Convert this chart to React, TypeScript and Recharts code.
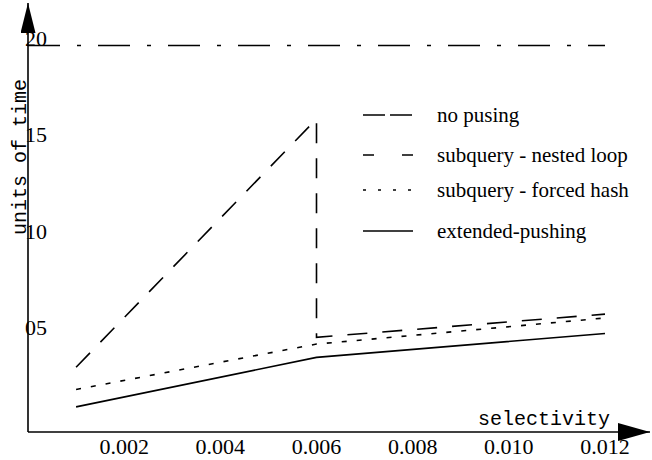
import { LineChart, Line, XAxis, YAxis, Legend, Label } from "recharts"

// ── Data ──────────────────────────────────────────────────────────────────

const X_TICKS = [0.002, 0.004, 0.006, 0.008, 0.01, 0.012]
const Y_TICKS = [5, 10, 15, 20]
const X_MAX = 0.012936
const Y_MAX = 22.2

const noPushingX = [0, 0.012]
const noPushingY = [20, 20]

const nestedLoopX = [0.001, 0.006, 0.006, 0.012]
const nestedLoopY = [3.35, 16.2, 4.9, 6.1]

const forcedHashX = [0.001, 0.006, 0.012]
const forcedHashY = [2.2, 4.55, 5.9]

const extendedX = [0.001, 0.006, 0.012]
const extendedY = [1.3, 3.86, 5.1]

const toPoints = (xs: number[], ys: number[]) =>
  xs.map((x, i) => ({ x, y: ys[i] }))

// ── Series styling ────────────────────────────────────────────────────────

const SERIES = [
  { name: "no pusing", data: toPoints(noPushingX, noPushingY), dash: "32 17 4 17", legendDash: "22 5" },
  { name: "subquery - nested loop", data: toPoints(nestedLoopX, nestedLoopY), dash: "20 15", legendDash: "11 28" },
  { name: "subquery - forced hash", data: toPoints(forcedHashX, forcedHashY), dash: "5 10", legendDash: "3 12" },
  { name: "extended-pushing", data: toPoints(extendedX, extendedY), dash: undefined, legendDash: undefined },
]

const SERIF = "Liberation Serif"
const MONO = "Liberation Mono"
const LEGEND_ROW_TOP = [0, 40, 75, 116]

// ── Ticks, titles, legend ─────────────────────────────────────────────────

function XTick({ x, y, payload }: any) {
  return (
    <text x={x} y={y + 22} textAnchor="middle" style={{ fontFamily: SERIF, fontSize: 22 }} fill="#000">
      {payload.value.toFixed(3)}
    </text>
  )
}

function YTick({ x, y, payload }: any) {
  return (
    <text x={x - 3} y={y} textAnchor="start" style={{ fontFamily: SERIF, fontSize: 22 }} fill="#000">
      {String(payload.value).padStart(2, "0")}
    </text>
  )
}

function XTitle({ viewBox }: any) {
  return (
    <text x={viewBox.x + viewBox.width - 40} y={viewBox.y - 7} textAnchor="end" style={{ fontFamily: MONO, fontSize: 20 }} fill="#000">
      selectivity
    </text>
  )
}

function YTitle({ viewBox }: any) {
  const cx = viewBox.x + viewBox.width - 2
  const cy = viewBox.y + 154
  return (
    <text x={cx} y={cy} transform={`rotate(-90, ${cx}, ${cy})`} textAnchor="middle" style={{ fontFamily: MONO, fontSize: 20 }} fill="#000">
      units of time
    </text>
  )
}

function LegendBox() {
  return (
    <div style={{ position: "relative", width: 280, height: 145, fontFamily: SERIF, fontSize: 21, color: "#000" }}>
      {SERIES.map((s, i) => (
        <div
          key={s.name}
          style={{ position: "absolute", top: LEGEND_ROW_TOP[i], left: 0, height: 24, display: "flex", alignItems: "center", whiteSpace: "nowrap" }}
        >
          <svg width={50} height={4} style={{ display: "block" }}>
            <line x1={0} y1={2} x2={50} y2={2} stroke="#000" strokeWidth={1.6} strokeDasharray={s.legendDash} />
          </svg>
          <span style={{ marginLeft: 24 }}>{s.name}</span>
        </div>
      ))}
    </div>
  )
}

// ── Main export ───────────────────────────────────────────────────────────

export default function App() {
  return (
    <div style={{ position: "absolute", left: 0, top: 0, width: 652, height: 460, background: "#fff" }}>
      <LineChart width={652} height={460} margin={{ top: 3, right: 2, left: 0, bottom: 0 }}>
        <defs>
          <marker id="xArrow" markerUnits="userSpaceOnUse" markerWidth={32} markerHeight={18} viewBox="0 0 32 18" refX={32} refY={9} orient="auto">
            <path d="M0,0 L32,9 L0,18 Z" fill="#000" />
          </marker>
          <marker id="yArrow" markerUnits="userSpaceOnUse" markerWidth={30} markerHeight={15} viewBox="0 0 30 15" refX={30} refY={7.5} orient="auto-start-reverse">
            <path d="M0,0 L30,7.5 L0,15 Z" fill="#000" />
          </marker>
        </defs>
        <XAxis
          type="number"
          dataKey="x"
          domain={[0, X_MAX]}
          ticks={X_TICKS}
          height={28}
          tickSize={0}
          tickMargin={0}
          tickLine={false}
          tick={<XTick />}
          axisLine={{ stroke: "#000", strokeWidth: 1.6, markerEnd: "url(#xArrow)" }}
          allowDataOverflow
        >
          <Label content={<XTitle />} />
        </XAxis>
        <YAxis
          type="number"
          domain={[0, Y_MAX]}
          ticks={Y_TICKS}
          width={28}
          tickSize={0}
          tickMargin={0}
          tickLine={false}
          tick={<YTick />}
          axisLine={{ stroke: "#000", strokeWidth: 1.6, markerStart: "url(#yArrow)" }}
          allowDataOverflow
        >
          <Label content={<YTitle />} />
        </YAxis>
        <Legend
          layout="vertical"
          align="center"
          verticalAlign="middle"
          content={<LegendBox />}
          wrapperStyle={{ left: 363, top: 103, width: 280, height: 145 }}
        />
        {SERIES.map((s) => (
          <Line
            key={s.name}
            name={s.name}
            data={s.data}
            dataKey="y"
            type="linear"
            stroke="#000"
            strokeWidth={1.6}
            strokeDasharray={s.dash}
            dot={false}
            activeDot={false}
            isAnimationActive={false}
          />
        ))}
      </LineChart>
    </div>
  )
}
